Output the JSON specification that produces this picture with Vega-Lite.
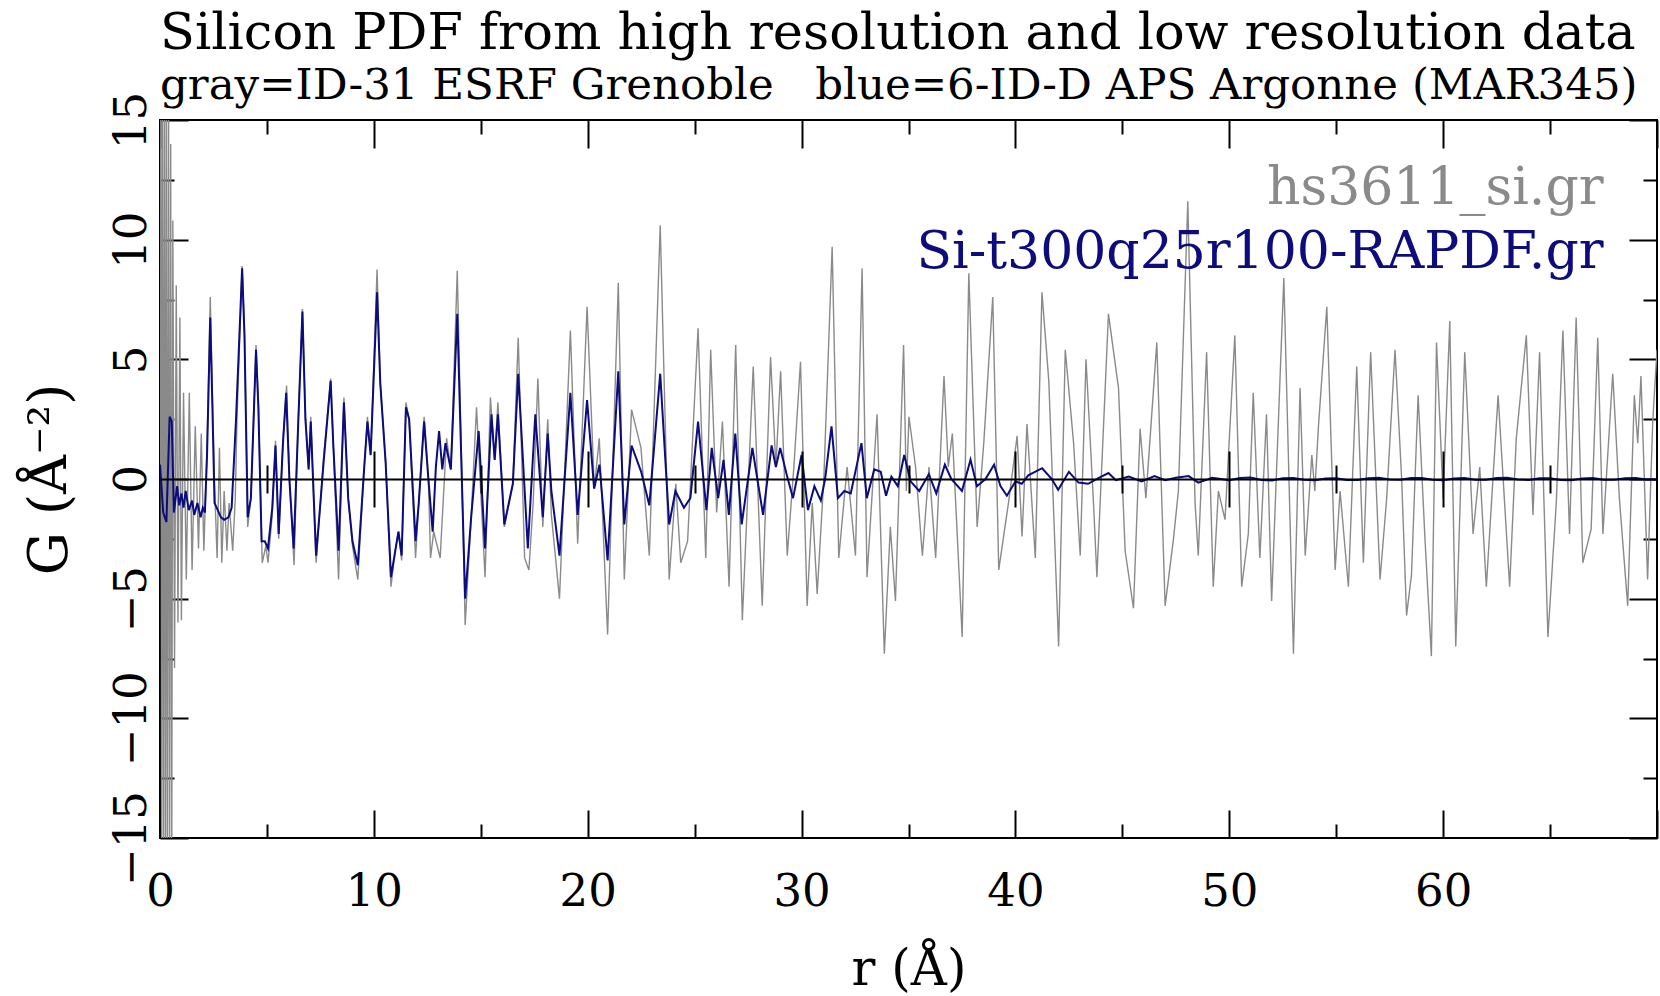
{
  "$schema": "https://vega.github.io/schema/vega-lite/v6.json",
  "width": 1497,
  "height": 718,
  "autosize": {"type": "none"},
  "padding": {"left": 160, "top": 120, "right": 3, "bottom": 158},
  "background": "white",
  "config": {"view": {"stroke": "black", "strokeWidth": 2}, "font": "DejaVu Serif"},
  "title": {
    "text": "Silicon PDF from high resolution and low resolution data",
    "subtitle": "gray=ID-31 ESRF Grenoble\u00a0\u00a0\u00a0blue=6-ID-D APS Argonne (MAR345)",
    "anchor": "start",
    "frame": "group",
    "font": "DejaVu Serif",
    "fontSize": 51,
    "fontWeight": "normal",
    "color": "black",
    "subtitleFont": "DejaVu Serif",
    "subtitleFontSize": 43.5,
    "subtitleColor": "black",
    "subtitlePadding": 5,
    "offset": -17
  },
  "datasets": {
    "hs3611": [
      {"r":0.0,"G":0.0},{"r":0.04,"G":16},{"r":0.08,"G":-16},{"r":0.12,"G":16},{"r":0.17,"G":-16},{"r":0.21,"G":16},{"r":0.26,"G":-16},{"r":0.3,"G":16},{"r":0.35,"G":-16},{"r":0.4,"G":16},{"r":0.45,"G":-16},{"r":0.5,"G":14},{"r":0.55,"G":-16},{"r":0.6,"G":10.8},{"r":0.68,"G":-7.9},{"r":0.76,"G":8.1},{"r":0.84,"G":-6.0},{"r":0.93,"G":6.75},{"r":1.0,"G":-5.9},{"r":1.1,"G":3.6},{"r":1.23,"G":-4.2},{"r":1.37,"G":3.6},{"r":1.5,"G":-3.8},{"r":1.65,"G":2.2},{"r":1.8,"G":-2.9},{"r":1.93,"G":1.9},{"r":2.05,"G":-3.0},{"r":2.2,"G":1.4},{"r":2.35,"G":7.6},{"r":2.45,"G":3.5},{"r":2.55,"G":-0.2},{"r":2.67,"G":-3.3},{"r":2.78,"G":1.3},{"r":2.89,"G":-3.5},{"r":3.0,"G":-0.5},{"r":3.13,"G":-3.0},{"r":3.23,"G":-1.0},{"r":3.4,"G":-3.0},{"r":3.52,"G":-0.8},{"r":3.6,"G":2.5},{"r":3.84,"G":8.9},{"r":3.95,"G":6.2},{"r":4.1,"G":-2.0},{"r":4.25,"G":-0.8},{"r":4.49,"G":5.6},{"r":4.6,"G":3.2},{"r":4.78,"G":-3.5},{"r":4.95,"G":-2.8},{"r":5.05,"G":-3.5},{"r":5.25,"G":-1.5},{"r":5.4,"G":1.6},{"r":5.55,"G":-2.5},{"r":5.75,"G":1.6},{"r":5.92,"G":3.9},{"r":6.05,"G":0.0},{"r":6.27,"G":-3.6},{"r":6.45,"G":2.1},{"r":6.66,"G":7.1},{"r":6.8,"G":2.6},{"r":6.95,"G":0.4},{"r":7.05,"G":2.6},{"r":7.2,"G":-1.2},{"r":7.3,"G":-3.5},{"r":7.5,"G":-1.0},{"r":7.65,"G":0.9},{"r":7.98,"G":4.2},{"r":8.1,"G":1.5},{"r":8.35,"G":-4.2},{"r":8.6,"G":3.4},{"r":8.8,"G":-0.8},{"r":9.0,"G":-2.8},{"r":9.25,"G":-4.2},{"r":9.55,"G":0.5},{"r":9.7,"G":2.6},{"r":9.85,"G":1.0},{"r":10.15,"G":8.75},{"r":10.3,"G":4.0},{"r":10.55,"G":0.7},{"r":10.8,"G":-4.5},{"r":11.0,"G":-3.0},{"r":11.15,"G":-2.2},{"r":11.3,"G":-3.4},{"r":11.5,"G":3.2},{"r":11.65,"G":2.5},{"r":11.95,"G":-3.3},{"r":12.1,"G":-1.0},{"r":12.35,"G":2.6},{"r":12.55,"G":0.0},{"r":12.65,"G":-3.3},{"r":12.8,"G":-2.2},{"r":13.1,"G":-3.3},{"r":13.4,"G":1.7},{"r":13.6,"G":0.4},{"r":13.9,"G":8.7},{"r":14.27,"G":-6.1},{"r":14.55,"G":-1.6},{"r":14.8,"G":3.0},{"r":15.2,"G":-4.1},{"r":15.45,"G":3.4},{"r":15.65,"G":0.8},{"r":15.8,"G":3.2},{"r":16.1,"G":-2.0},{"r":16.5,"G":-0.2},{"r":16.75,"G":5.9},{"r":17.05,"G":-3.3},{"r":17.25,"G":-3.8},{"r":17.45,"G":-1.0},{"r":17.67,"G":4.2},{"r":17.9,"G":-2.0},{"r":18.13,"G":2.5},{"r":18.3,"G":-1.5},{"r":18.68,"G":-5.0},{"r":19.19,"G":6.2},{"r":19.53,"G":-2.7},{"r":19.97,"G":7.2},{"r":20.31,"G":-0.4},{"r":20.54,"G":1.7},{"r":20.93,"G":-6.5},{"r":21.43,"G":8.2},{"r":21.71,"G":-4.2},{"r":22.05,"G":2.9},{"r":22.49,"G":1.3},{"r":22.88,"G":-3.2},{"r":23.39,"G":10.6},{"r":23.81,"G":-4.2},{"r":24.12,"G":-0.2},{"r":24.35,"G":-3.5},{"r":24.67,"G":-2.6},{"r":25.16,"G":6.3},{"r":25.52,"G":-3.3},{"r":25.75,"G":5.4},{"r":26.03,"G":-1.4},{"r":26.3,"G":2.4},{"r":26.61,"G":-4.5},{"r":26.92,"G":5.6},{"r":27.23,"G":-5.9},{"r":27.74,"G":4.7},{"r":28.16,"G":-5.3},{"r":28.55,"G":5.1},{"r":28.8,"G":0.5},{"r":29.02,"G":4.5},{"r":29.33,"G":-3.2},{"r":29.64,"G":0.5},{"r":29.95,"G":4.9},{"r":30.26,"G":-5.3},{"r":30.5,"G":-1.0},{"r":30.73,"G":-4.8},{"r":31.04,"G":0.0},{"r":31.43,"G":9.7},{"r":31.74,"G":-3.3},{"r":32.13,"G":0.5},{"r":32.52,"G":-3.2},{"r":32.83,"G":8.8},{"r":33.06,"G":-4.1},{"r":33.53,"G":2.7},{"r":33.87,"G":-7.3},{"r":34.15,"G":-2.0},{"r":34.39,"G":-5.1},{"r":34.77,"G":5.6},{"r":34.9,"G":-0.5},{"r":35.02,"G":2.6},{"r":35.33,"G":0.5},{"r":35.65,"G":-3.2},{"r":35.96,"G":0.5},{"r":36.27,"G":-3.3},{"r":36.66,"G":4.3},{"r":36.86,"G":0.5},{"r":37.05,"G":1.9},{"r":37.51,"G":-6.6},{"r":37.82,"G":8.6},{"r":38.21,"G":-2.0},{"r":38.52,"G":1.5},{"r":38.94,"G":7.6},{"r":39.22,"G":-3.8},{"r":39.69,"G":-0.9},{"r":40.08,"G":1.8},{"r":40.31,"G":-2.4},{"r":40.54,"G":2.3},{"r":40.93,"G":-3.3},{"r":41.24,"G":7.8},{"r":41.56,"G":4.1},{"r":42.02,"G":-7.0},{"r":42.33,"G":5.4},{"r":42.72,"G":1.5},{"r":43.03,"G":-3.2},{"r":43.3,"G":5.0},{"r":43.65,"G":-1.0},{"r":43.81,"G":-4.1},{"r":44.35,"G":6.9},{"r":44.82,"G":3.8},{"r":45.13,"G":-3.0},{"r":45.52,"G":-5.4},{"r":45.83,"G":2.1},{"r":46.1,"G":-0.8},{"r":46.61,"G":5.7},{"r":47.0,"G":-5.3},{"r":47.39,"G":-2.5},{"r":47.62,"G":-0.5},{"r":48.06,"G":11.6},{"r":48.4,"G":-1.0},{"r":48.55,"G":-3.2},{"r":48.94,"G":5.3},{"r":49.25,"G":-4.5},{"r":49.49,"G":-0.5},{"r":49.8,"G":-1.7},{"r":50.26,"G":6.0},{"r":50.58,"G":-4.5},{"r":50.89,"G":-2.3},{"r":51.12,"G":3.6},{"r":51.43,"G":-3.3},{"r":51.74,"G":2.7},{"r":51.98,"G":-5.1},{"r":52.55,"G":8.4},{"r":53.0,"G":-7.3},{"r":53.31,"G":3.8},{"r":53.55,"G":-3.2},{"r":53.86,"G":1.0},{"r":54.0,"G":-0.5},{"r":54.17,"G":2.2},{"r":54.56,"G":7.2},{"r":54.95,"G":-3.8},{"r":55.18,"G":-0.5},{"r":55.57,"G":-4.5},{"r":55.96,"G":4.7},{"r":56.27,"G":-3.5},{"r":56.61,"G":5.3},{"r":57.05,"G":-4.2},{"r":57.36,"G":-0.8},{"r":57.75,"G":5.4},{"r":58.06,"G":0.0},{"r":58.29,"G":-5.7},{"r":58.52,"G":-4.0},{"r":58.83,"G":3.5},{"r":59.15,"G":-2.5},{"r":59.45,"G":-7.4},{"r":59.69,"G":5.7},{"r":60.0,"G":-0.8},{"r":60.31,"G":6.6},{"r":60.59,"G":-7.0},{"r":61.01,"G":5.3},{"r":61.4,"G":-2.3},{"r":61.71,"G":0.5},{"r":62.02,"G":-4.5},{"r":62.57,"G":3.5},{"r":63.11,"G":-4.5},{"r":63.42,"G":1.7},{"r":63.89,"G":6.0},{"r":64.2,"G":-1.5},{"r":64.51,"G":5.3},{"r":64.9,"G":-6.6},{"r":65.29,"G":-1.0},{"r":65.6,"G":6.2},{"r":65.91,"G":-2.3},{"r":66.22,"G":6.75},{"r":66.53,"G":-3.5},{"r":66.92,"G":-2.1},{"r":67.23,"G":5.9},{"r":67.47,"G":-2.3},{"r":67.93,"G":4.4},{"r":68.24,"G":-0.8},{"r":68.63,"G":-5.3},{"r":68.94,"G":3.5},{"r":69.1,"G":1.5},{"r":69.25,"G":4.3},{"r":69.56,"G":-4.2},{"r":69.8,"G":2.4},{"r":70.0,"G":5.4}
    ],
    "rapdf": [
      {"r":0.0,"G":0.6},{"r":0.15,"G":-1.4},{"r":0.3,"G":-1.8},{"r":0.45,"G":2.6},{"r":0.55,"G":2.4},{"r":0.65,"G":-1.4},{"r":0.8,"G":-0.3},{"r":0.9,"G":-1.1},{"r":1.0,"G":-0.6},{"r":1.1,"G":-1.2},{"r":1.2,"G":-0.5},{"r":1.35,"G":-1.3},{"r":1.5,"G":-0.9},{"r":1.6,"G":-1.5},{"r":1.75,"G":-1.0},{"r":1.9,"G":-1.6},{"r":2.0,"G":-1.2},{"r":2.1,"G":-1.4},{"r":2.2,"G":1.0},{"r":2.35,"G":6.75},{"r":2.45,"G":3.0},{"r":2.55,"G":-1.0},{"r":2.7,"G":-1.3},{"r":2.85,"G":-1.6},{"r":3.0,"G":-1.7},{"r":3.2,"G":-1.6},{"r":3.35,"G":-1.2},{"r":3.55,"G":2.4},{"r":3.84,"G":8.8},{"r":3.95,"G":6.0},{"r":4.1,"G":-1.6},{"r":4.25,"G":-0.8},{"r":4.49,"G":5.4},{"r":4.6,"G":3.0},{"r":4.75,"G":-2.6},{"r":4.9,"G":-2.6},{"r":5.05,"G":-2.9},{"r":5.25,"G":-1.2},{"r":5.4,"G":1.4},{"r":5.55,"G":-2.3},{"r":5.75,"G":1.5},{"r":5.9,"G":3.6},{"r":6.05,"G":0.0},{"r":6.25,"G":-2.9},{"r":6.45,"G":2.0},{"r":6.66,"G":7.0},{"r":6.8,"G":2.5},{"r":6.95,"G":0.4},{"r":7.05,"G":2.4},{"r":7.2,"G":-1.0},{"r":7.3,"G":-3.2},{"r":7.5,"G":-1.0},{"r":7.65,"G":0.7},{"r":7.98,"G":4.1},{"r":8.1,"G":1.5},{"r":8.35,"G":-3.0},{"r":8.6,"G":3.2},{"r":8.8,"G":-0.8},{"r":9.0,"G":-2.6},{"r":9.25,"G":-3.6},{"r":9.55,"G":0.5},{"r":9.7,"G":2.4},{"r":9.85,"G":1.0},{"r":10.15,"G":7.8},{"r":10.3,"G":4.0},{"r":10.55,"G":0.7},{"r":10.8,"G":-4.1},{"r":11.0,"G":-3.0},{"r":11.15,"G":-2.2},{"r":11.3,"G":-3.2},{"r":11.5,"G":3.0},{"r":11.65,"G":2.5},{"r":11.95,"G":-2.6},{"r":12.1,"G":-1.0},{"r":12.35,"G":2.4},{"r":12.55,"G":0.0},{"r":12.75,"G":-2.2},{"r":12.9,"G":0.5},{"r":13.05,"G":2.0},{"r":13.2,"G":0.4},{"r":13.35,"G":1.5},{"r":13.6,"G":0.4},{"r":13.9,"G":6.9},{"r":14.27,"G":-5.0},{"r":14.55,"G":-1.6},{"r":14.9,"G":2.0},{"r":15.2,"G":-2.9},{"r":15.5,"G":2.7},{"r":15.65,"G":0.8},{"r":15.8,"G":2.7},{"r":16.1,"G":-1.9},{"r":16.5,"G":-0.2},{"r":16.75,"G":4.4},{"r":17.2,"G":-2.9},{"r":17.55,"G":2.7},{"r":17.9,"G":-1.6},{"r":18.13,"G":1.9},{"r":18.3,"G":-0.5},{"r":18.68,"G":-3.2},{"r":19.19,"G":3.6},{"r":19.53,"G":-1.5},{"r":19.97,"G":3.3},{"r":20.3,"G":-0.4},{"r":20.55,"G":0.6},{"r":20.93,"G":-3.4},{"r":21.43,"G":4.5},{"r":21.71,"G":-1.9},{"r":22.05,"G":1.4},{"r":22.5,"G":0.3},{"r":22.88,"G":-1.1},{"r":23.39,"G":4.4},{"r":23.81,"G":-1.9},{"r":24.1,"G":-0.5},{"r":24.5,"G":-1.2},{"r":24.8,"G":-0.8},{"r":25.16,"G":2.4},{"r":25.55,"G":-1.3},{"r":25.8,"G":1.3},{"r":26.1,"G":-0.8},{"r":26.35,"G":0.8},{"r":26.6,"G":-1.5},{"r":26.9,"G":1.9},{"r":27.2,"G":-1.9},{"r":27.7,"G":1.3},{"r":28.2,"G":-1.5},{"r":28.6,"G":1.4},{"r":28.8,"G":0.5},{"r":29.0,"G":1.3},{"r":29.3,"G":0.2},{"r":29.6,"G":-0.8},{"r":30.0,"G":1.0},{"r":30.3,"G":-1.3},{"r":30.6,"G":-0.3},{"r":30.9,"G":-0.9},{"r":31.1,"G":0.0},{"r":31.4,"G":2.2},{"r":31.7,"G":-0.8},{"r":32.0,"G":-0.5},{"r":32.3,"G":-0.6},{"r":32.8,"G":1.5},{"r":33.05,"G":-0.8},{"r":33.4,"G":0.4},{"r":33.7,"G":0.3},{"r":33.95,"G":-0.7},{"r":34.2,"G":0.1},{"r":34.5,"G":-0.3},{"r":34.8,"G":1.0},{"r":35.1,"G":-0.1},{"r":35.5,"G":-0.5},{"r":35.95,"G":0.2},{"r":36.3,"G":-0.6},{"r":36.7,"G":0.6},{"r":37.0,"G":0.0},{"r":37.5,"G":-0.5},{"r":37.9,"G":0.8},{"r":38.2,"G":-0.3},{"r":38.6,"G":0.0},{"r":39.0,"G":0.6},{"r":39.3,"G":-0.3},{"r":39.6,"G":-0.7},{"r":40.0,"G":-0.1},{"r":40.3,"G":-0.2},{"r":40.6,"G":0.15},{"r":41.25,"G":0.45},{"r":41.7,"G":0.0},{"r":42.0,"G":-0.45},{"r":42.5,"G":0.3},{"r":42.95,"G":-0.15},{"r":43.4,"G":-0.2},{"r":43.9,"G":0.05},{"r":44.35,"G":0.25},{"r":44.7,"G":-0.05},{"r":45.3,"G":0.1},{"r":45.9,"G":-0.1},{"r":46.5,"G":0.12},{"r":47.0,"G":-0.05},{"r":47.5,"G":0.05},{"r":48.1,"G":0.12},{"r":48.55,"G":-0.15},{"r":49.2,"G":0.05},{"r":50.0,"G":-0.05},{"r":50.5,"G":0.04},{"r":51.0,"G":0.06},{"r":51.5,"G":-0.04},{"r":52.0,"G":-0.06},{"r":52.5,"G":0.03},{"r":53.0,"G":0.04},{"r":53.5,"G":-0.03},{"r":54.0,"G":-0.05},{"r":54.5,"G":0.02},{"r":55.0,"G":0.03},{"r":55.5,"G":-0.04},{"r":56.0,"G":-0.04},{"r":56.5,"G":0.03},{"r":57.0,"G":0.05},{"r":57.5,"G":-0.02},{"r":58.0,"G":-0.03},{"r":58.5,"G":0.04},{"r":59.0,"G":0.04},{"r":59.5,"G":-0.03},{"r":60.0,"G":-0.05},{"r":60.5,"G":0.02},{"r":61.0,"G":0.04},{"r":61.5,"G":-0.03},{"r":62.0,"G":-0.03},{"r":62.5,"G":0.04},{"r":63.0,"G":0.05},{"r":63.5,"G":-0.02},{"r":64.0,"G":-0.04},{"r":64.5,"G":0.03},{"r":65.0,"G":0.03},{"r":65.5,"G":-0.04},{"r":66.0,"G":-0.05},{"r":66.5,"G":0.02},{"r":67.0,"G":0.04},{"r":67.5,"G":-0.03},{"r":68.0,"G":-0.03},{"r":68.5,"G":0.03},{"r":69.0,"G":0.04},{"r":69.5,"G":-0.02},{"r":70.0,"G":-0.02}
    ]
  },
  "layer": [
    {
      "data": {"name": "hs3611"},
      "mark": {"type": "line", "strokeWidth": 1.4, "clip": true},
      "encoding": {
        "x": {
          "field": "r", "type": "quantitative",
          "scale": {"domain": [0, 70], "nice": false, "zero": false},
          "axis": {
            "orient": "bottom",
            "values": [0,5,10,15,20,25,30,35,40,45,50,55,60,65,70],
            "domain": false, "grid": false,
            "tickColor": "black", "tickWidth": 2,
            "tickSize": {"condition": {"test": "datum.value % 10 === 0", "value": -28}, "value": -14},
            "labelExpr": "datum.value % 10 === 0 && datum.value < 70 ? datum.label : ''",
            "labelFont": "DejaVu Serif", "labelFontSize": 45, "labelColor": "black",
            "labelPadding": 59, "labelFlush": false, "labelOverlap": false,
            "title": "r (Å)", "titleFont": "DejaVu Serif", "titleFontSize": 50,
            "titleFontWeight": "normal", "titleColor": "black", "titlePadding": 16
          }
        },
        "y": {
          "field": "G", "type": "quantitative",
          "scale": {"domain": [-15, 15], "nice": false, "zero": false},
          "axis": {
            "orient": "left",
            "values": [-15,-12.5,-10,-7.5,-5,-2.5,0,2.5,5,7.5,10,12.5,15],
            "domain": false, "grid": false,
            "tickColor": "black", "tickWidth": 2,
            "tickSize": {"condition": {"test": "datum.value % 5 === 0", "value": -28}, "value": -14},
            "labelExpr": "datum.value % 5 === 0 ? datum.label : ''",
            "labelAngle": 270, "labelAlign": "center", "labelBaseline": "alphabetic",
            "labelFont": "DejaVu Serif", "labelFontSize": 45, "labelColor": "black",
            "labelPadding": 43, "labelFlush": false, "labelOverlap": false,
            "title": "G (Å⁻²)", "titleFont": "DejaVu Serif", "titleFontSize": 54,
            "titleFontWeight": "normal", "titleColor": "black", "titlePadding": 18
          }
        },
        "color": {
          "datum": "hs3611_si.gr", "type": "nominal",
          "scale": {"domain": ["hs3611_si.gr", "Si-t300q25r100-RAPDF.gr"], "range": ["#8a8a8a", "#0c0c7c"]},
          "legend": null
        }
      }
    },
    {
      "data": {"name": "rapdf"},
      "mark": {"type": "line", "strokeWidth": 2, "clip": true},
      "encoding": {
        "x": {
          "field": "r", "type": "quantitative",
          "axis": {
            "orient": "top",
            "values": [0,5,10,15,20,25,30,35,40,45,50,55,60,65,70],
            "domain": false, "grid": false, "labels": false, "title": null,
            "tickColor": "black", "tickWidth": 2,
            "tickSize": {"condition": {"test": "datum.value % 10 === 0", "value": -28}, "value": -14}
          }
        },
        "y": {
          "field": "G", "type": "quantitative",
          "axis": {
            "orient": "right",
            "values": [-15,-12.5,-10,-7.5,-5,-2.5,0,2.5,5,7.5,10,12.5,15],
            "domain": false, "grid": false, "labels": false, "title": null,
            "tickColor": "black", "tickWidth": 2,
            "tickSize": {"condition": {"test": "datum.value % 5 === 0", "value": -28}, "value": -14}
          }
        },
        "color": {"datum": "Si-t300q25r100-RAPDF.gr", "type": "nominal", "legend": null}
      }
    },
    {
      "data": {"values": [{}]},
      "mark": {"type": "text", "text": "hs3611_si.gr", "align": "right", "baseline": "alphabetic", "font": "DejaVu Serif", "fontSize": 52},
      "encoding": {
        "x": {
          "datum": 67.5, "type": "quantitative",
          "axis": {
            "orient": "bottom", "offset": -359,
            "values": [5,10,15,20,25,30,35,40,45,50,55,60,65],
            "domain": true, "domainColor": "black", "domainWidth": 2,
            "grid": false, "labels": false, "title": null, "zindex": 1,
            "tickColor": "black", "tickWidth": 2,
            "tickSize": {"condition": {"test": "datum.value % 10 === 0", "value": 28}, "value": 14}
          }
        },
        "y": {"datum": 11.5, "type": "quantitative", "axis": null},
        "color": {"datum": "hs3611_si.gr", "type": "nominal", "legend": null}
      }
    },
    {
      "data": {"values": [{}]},
      "mark": {"type": "text", "text": "Si-t300q25r100-RAPDF.gr", "align": "right", "baseline": "alphabetic", "font": "DejaVu Serif", "fontSize": 52},
      "encoding": {
        "x": {
          "datum": 67.5, "type": "quantitative",
          "axis": {
            "orient": "bottom", "offset": -359,
            "values": [5,10,15,20,25,30,35,40,45,50,55,60,65],
            "domain": false, "grid": false, "labels": false, "title": null, "zindex": 1,
            "tickColor": "black", "tickWidth": 2,
            "tickSize": {"condition": {"test": "datum.value % 10 === 0", "value": -28}, "value": -14}
          }
        },
        "y": {"datum": 8.8, "type": "quantitative", "axis": null},
        "color": {"datum": "Si-t300q25r100-RAPDF.gr", "type": "nominal", "legend": null}
      }
    }
  ],
  "resolve": {"axis": {"x": "independent", "y": "independent"}}
}
